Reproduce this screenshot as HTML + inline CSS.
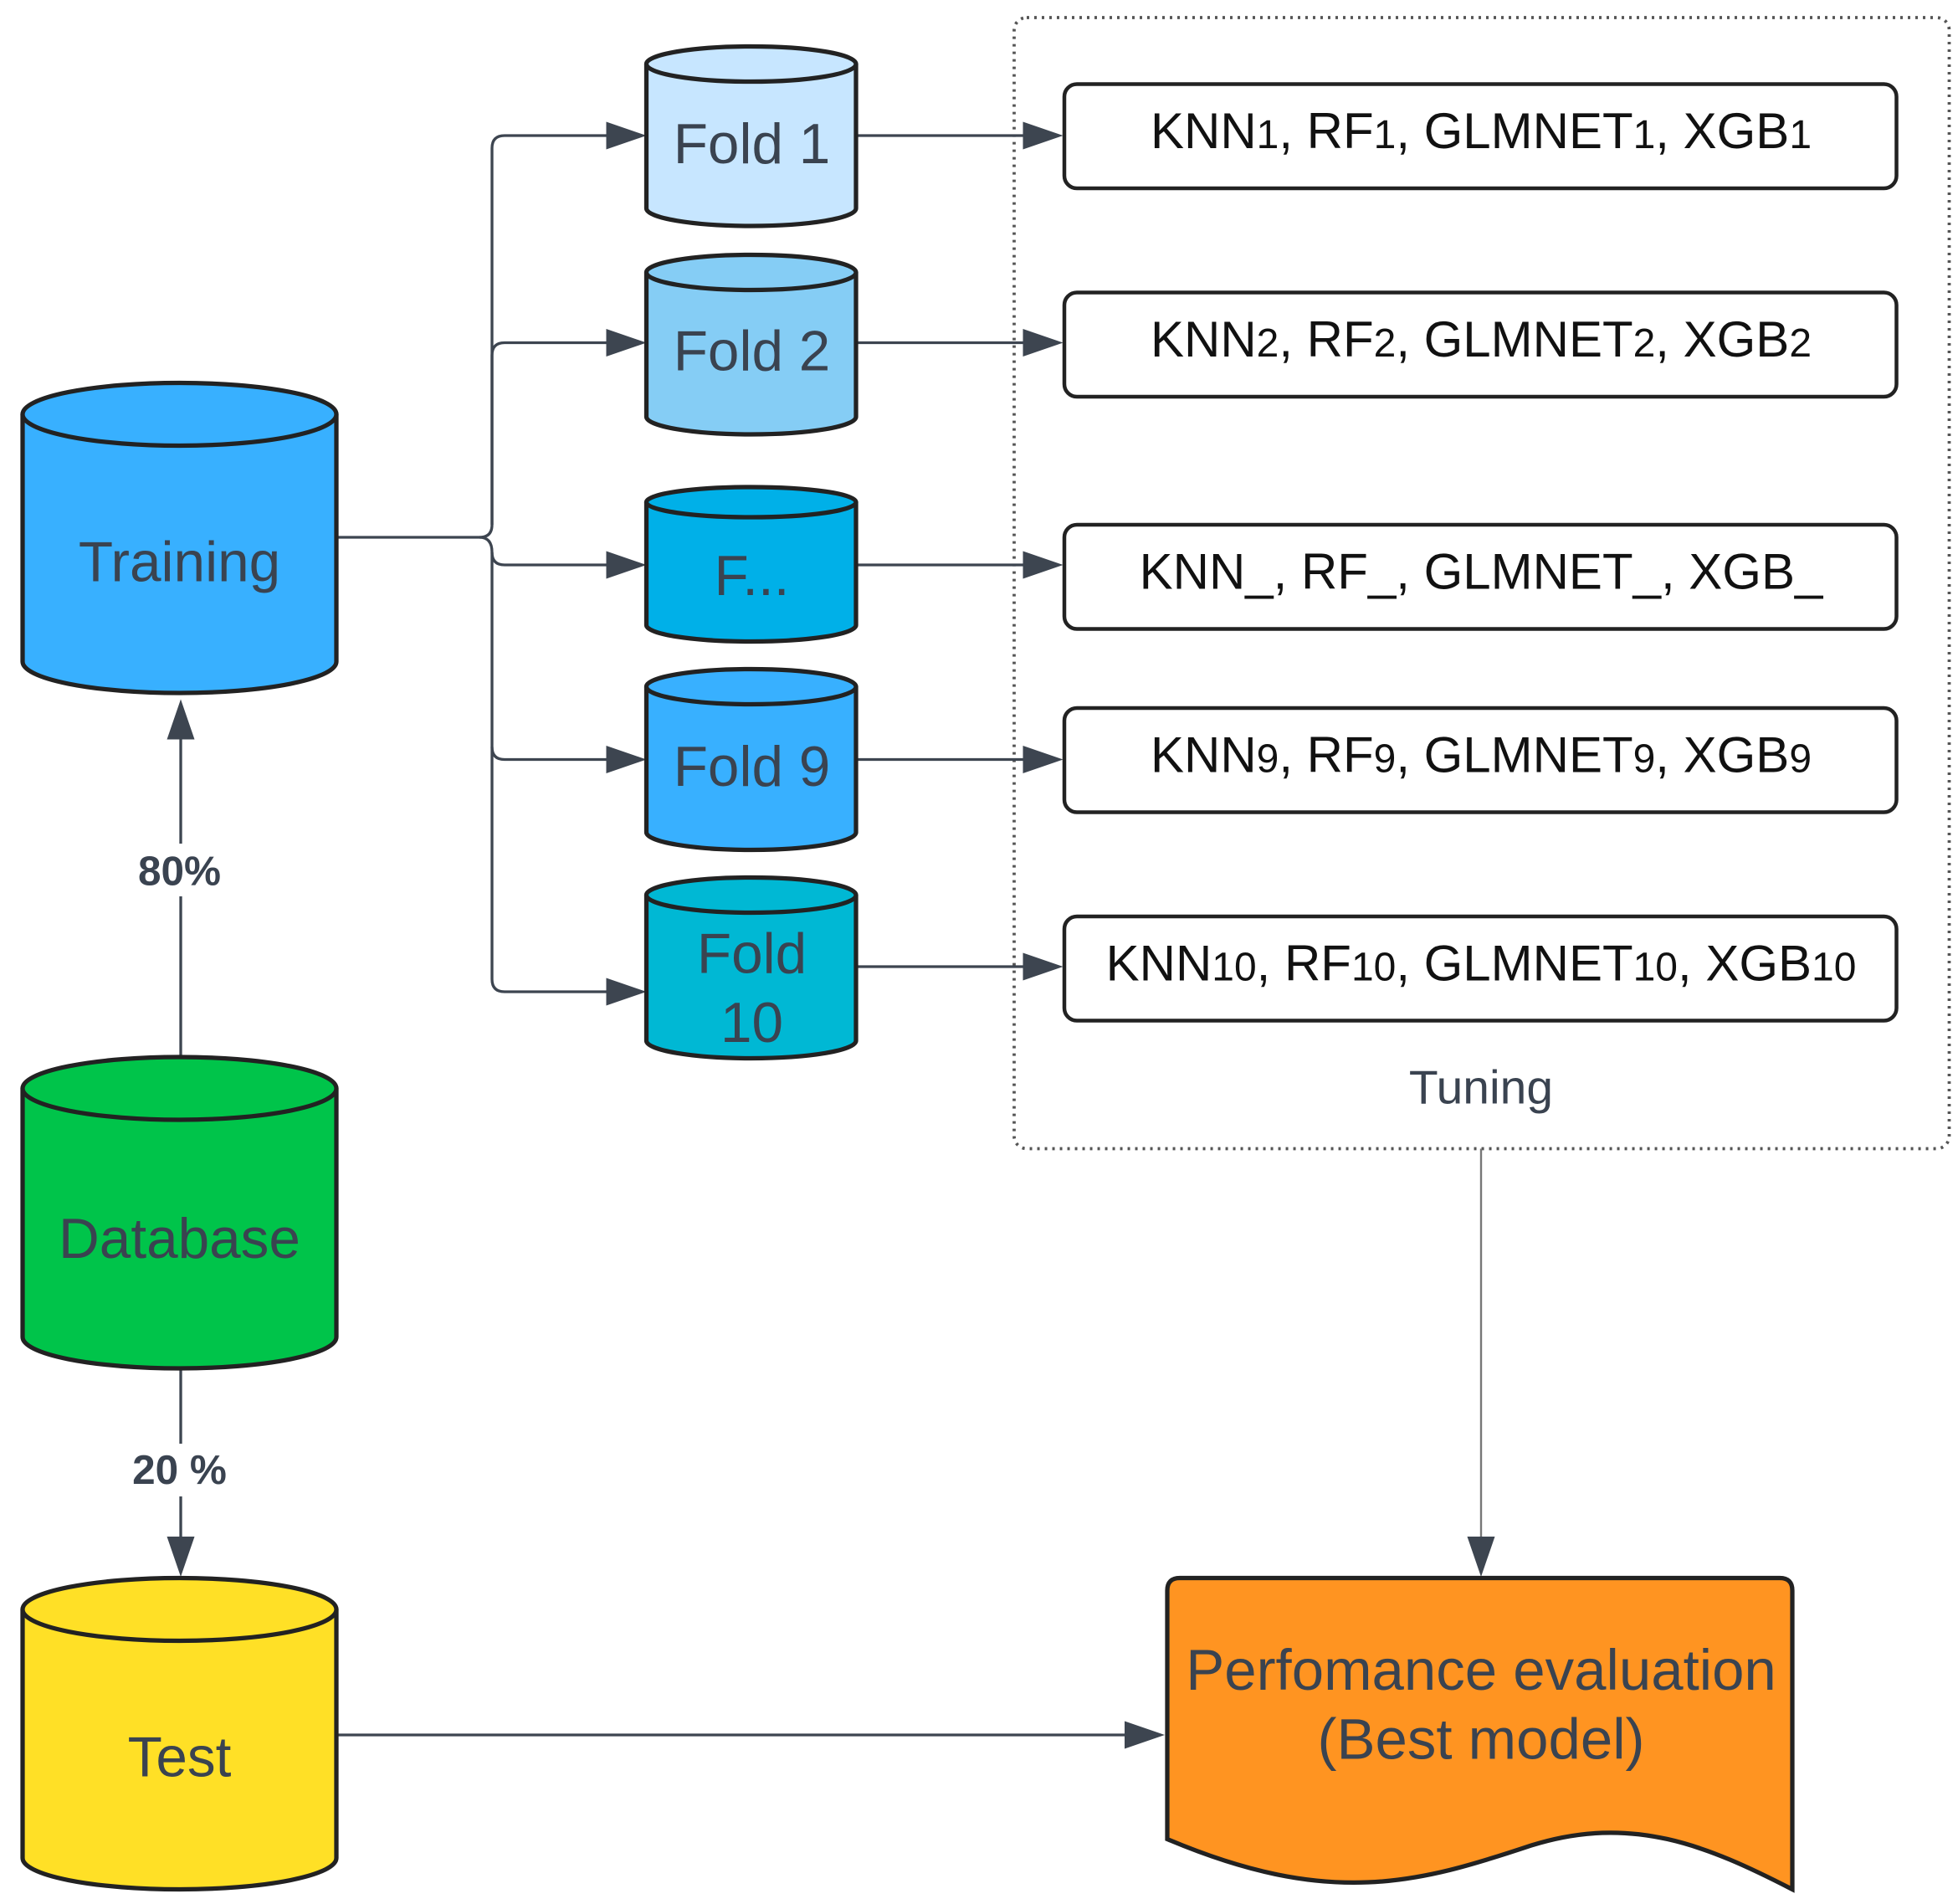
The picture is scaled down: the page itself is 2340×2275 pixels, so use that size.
<!DOCTYPE html>
<html><head><meta charset="utf-8"><style>html,body{margin:0;padding:0;background:#fff}svg{display:block}</style></head>
<body>
<svg width="2340" height="2275" viewBox="0 0 1560 1516.67" xmlns="http://www.w3.org/2000/svg" font-family="Liberation Sans, sans-serif">
<rect width="1560" height="1517" fill="#fff"/>
<!-- dotted container -->
<rect x="808" y="14" width="745" height="901" rx="10" fill="none" stroke="#555" stroke-width="2.5" stroke-dasharray="2 4"/>
<text x="1180" y="879" font-size="38" fill="#3a4350" text-anchor="middle">Tuning</text>

<g stroke="#3d4550" stroke-width="2.2" fill="none">
<path d="M268,428 H382 Q392,428 392,418 V118 Q392,108 402,108 H486"/>
<path d="M392,418 V283 Q392,273 402,273 H486"/>
<path d="M382,428 Q392,428 392,440 Q392,450 402,450 H486"/>
<path d="M392,440 V595 Q392,605 402,605 H486"/>
<path d="M392,595 V780 Q392,790 402,790 H486"/>
<path d="M682,108 H818"/><path d="M682,273 H818"/><path d="M682,450 H818"/><path d="M682,605 H818"/><path d="M682,770 H818"/>
<path d="M144,842 V588"/><path d="M144,1090 V1226"/>
<path d="M268,1382 H898"/>
</g>
<path d="M1180,915 V1226" stroke="#777" stroke-width="1.6"/>
<g fill="#3d4550">
<path d="M515,108 l-32,-11 v22z"/><path d="M515,273 l-32,-11 v22z"/><path d="M515,450 l-32,-11 v22z"/><path d="M515,605 l-32,-11 v22z"/><path d="M515,790 l-32,-11 v22z"/>
<path d="M847,108 l-32,-11 v22z"/><path d="M847,273 l-32,-11 v22z"/><path d="M847,450 l-32,-11 v22z"/><path d="M847,605 l-32,-11 v22z"/><path d="M847,770 l-32,-11 v22z"/>
<path d="M144,557 l-11,32 h22z"/><path d="M144,1256 l-11,-32 h22z"/>
<path d="M928,1382 l-32,-11 v22z"/><path d="M1180,1256 l-11,-32 h22z"/>
</g>
<rect x="100" y="672" width="88" height="42" fill="#fff"/>
<text x="143" y="705" font-size="33" font-weight="bold" fill="#3a4350" text-anchor="middle">80%</text>
<rect x="96" y="1150" width="96" height="42" fill="#fff"/>
<text x="143" y="1182" font-size="33" font-weight="bold" fill="#3a4350" text-anchor="middle">20 %</text>

<g stroke="#222" stroke-width="3.5">
<path d="M18,330 V527 A125,25 0 0 0 268,527 V330" fill="#38b0ff"/><ellipse cx="143" cy="330" rx="125" ry="25" fill="#38b0ff"/>
<path d="M18,867 V1065 A125,25 0 0 0 268,1065 V867" fill="#00c44a"/><ellipse cx="143" cy="867" rx="125" ry="25" fill="#00c44a"/>
<path d="M18,1282 V1480 A125,25 0 0 0 268,1480 V1282" fill="#ffe026"/><ellipse cx="143" cy="1282" rx="125" ry="25" fill="#ffe026"/>
<path d="M515,51 V166 A83.5,14 0 0 0 682,166 V51" fill="#c7e6ff"/><ellipse cx="598.5" cy="51" rx="83.5" ry="14" fill="#c7e6ff"/>
<path d="M515,217 V332 A83.5,14 0 0 0 682,332 V217" fill="#85cdf5"/><ellipse cx="598.5" cy="217" rx="83.5" ry="14" fill="#85cdf5"/>
<path d="M515,400 V498 A83.5,13 0 0 0 682,498 V400" fill="#00b0e8"/><ellipse cx="598.5" cy="400" rx="83.5" ry="12" fill="#00b0e8"/>
<path d="M515,547 V663 A83.5,14 0 0 0 682,663 V547" fill="#38b0ff"/><ellipse cx="598.5" cy="547" rx="83.5" ry="14" fill="#38b0ff"/>
<path d="M515,713 V829 A83.5,14 0 0 0 682,829 V713" fill="#00b8d4"/><ellipse cx="598.5" cy="713" rx="83.5" ry="14" fill="#00b8d4"/>
</g>
<g font-size="45" fill="#3a4350" text-anchor="middle">
<text x="143" y="463">Training</text>
<text x="143" y="1002">Database</text>
<text x="143" y="1415">Test</text>
<text x="599" y="130">Fold 1</text>
<text x="599" y="295">Fold 2</text>
<text x="599" y="474">F...</text>
<text x="599" y="626">Fold 9</text>
<text x="599" y="775">Fold</text>
<text x="599" y="830">10</text>
</g>
<g fill="#fff" stroke="#222" stroke-width="3">
<rect x="848" y="67" width="663" height="83" rx="10"/>
<rect x="848" y="233" width="663" height="83" rx="10"/>
<rect x="848" y="418" width="663" height="83" rx="10"/>
<rect x="848" y="564" width="663" height="83" rx="10"/>
<rect x="848" y="730" width="663" height="83" rx="10"/>
</g>
<g font-size="40" fill="#111" text-anchor="middle">
<text x="1180" y="118">KNN<tspan font-size="32">1</tspan>, RF<tspan font-size="32">1</tspan>, GLMNET<tspan font-size="32">1</tspan>, XGB<tspan font-size="32">1</tspan></text>
<text x="1180" y="284">KNN<tspan font-size="32">2</tspan>, RF<tspan font-size="32">2</tspan>, GLMNET<tspan font-size="32">2</tspan>, XGB<tspan font-size="32">2</tspan></text>
<text x="1180" y="469">KNN_, RF_, GLMNET_, XGB_</text>
<text x="1180" y="615">KNN<tspan font-size="32">9</tspan>, RF<tspan font-size="32">9</tspan>, GLMNET<tspan font-size="32">9</tspan>, XGB<tspan font-size="32">9</tspan></text>
<text x="1180" y="781">KNN<tspan font-size="32">10</tspan>, RF<tspan font-size="32">10</tspan>, GLMNET<tspan font-size="32">10</tspan>, XGB<tspan font-size="32">10</tspan></text>
</g>
<path d="M940,1257 H1418 Q1428,1257 1428,1267 V1505 C1360,1470 1300,1445 1220,1470 C1130,1500 1060,1520 930,1465 V1267 Q930,1257 940,1257 Z" fill="#ff9421" stroke="#222" stroke-width="3.5"/>
<g font-size="46" fill="#3a4350" text-anchor="middle">
<text x="1180" y="1346">Perfomance evaluation</text>
<text x="1180" y="1401">(Best model)</text>
</g>
</svg>
</body></html>
